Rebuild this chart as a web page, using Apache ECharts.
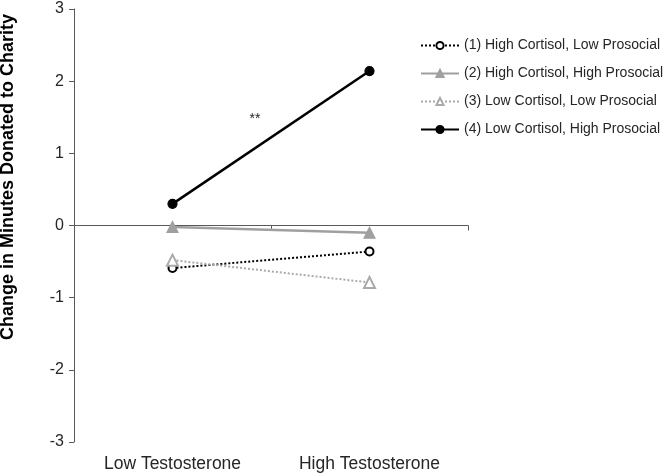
<!DOCTYPE html>
<html>
<head>
<meta charset="utf-8">
<script src="https://cdn.jsdelivr.net/npm/echarts@6/dist/echarts.min.js"></script>
<style>
  html, body { margin: 0; padding: 0; background: #fff; }
  #chart { width: 666px; height: 475px; }
</style>
</head>
<body>
<div id="chart"></div>
<script>
// categories and values
const categories = ['Low Testosterone', 'High Testosterone'];
const seriesNames = [
  '(1) High Cortisol, Low Prosocial',
  '(2) High Cortisol, High Prosocial',
  '(3) Low Cortisol, Low Prosocial',
  '(4) Low Cortisol, High Prosocial'
];
const highCortLowPro = [-0.59, -0.36];
const highCortHighPro = [-0.02, -0.10];
const lowCortLowPro = [-0.48, -0.79];
const lowCortHighPro = [0.30, 2.14];
const yTicks = { min: -3, max: 3, step: 1 };

const FONT = '"Liberation Sans", Arial, sans-serif';
const AXIS_GREY = '#595959';

const chart = echarts.init(document.getElementById('chart'));

const lineSeries = (name, data, color, dash, symbol, size, width) => ({
  name,
  type: 'line',
  data,
  xAxisIndex: 0,
  symbol,
  symbolSize: size,
  showSymbol: true,
  lineStyle: { color, width, type: dash },
  itemStyle: { color, borderColor: color, borderWidth: 1.2 },
  emphasis: { disabled: true },
  animation: false
});

chart.setOption({
  backgroundColor: '#fff',
  textStyle: { fontFamily: FONT },
  grid: { left: 74, top: 9, width: 394, bottom: 33 },
  legend: {
    orient: 'vertical',
    left: 415,
    top: 33,
    itemWidth: 38,
    itemHeight: 9,
    itemGap: 13,
    textStyle: { fontFamily: FONT, fontSize: 14, lineHeight: 15, color: '#262626' },
    data: seriesNames
  },
  xAxis: [
    {
      type: 'category',
      data: categories,
      position: 'bottom',
      axisLine: { onZero: true, lineStyle: { color: AXIS_GREY, width: 1 } },
      axisTick: { show: true, length: 5, lineStyle: { color: AXIS_GREY } },
      axisLabel: { show: false }
    },
    {
      type: 'category',
      data: categories,
      position: 'bottom',
      axisLine: { show: false, onZero: false },
      axisTick: { show: false },
      axisLabel: { fontFamily: FONT, fontSize: 17.5, color: '#262626', margin: 13 }
    }
  ],
  yAxis: {
    type: 'value',
    min: yTicks.min,
    max: yTicks.max,
    interval: yTicks.step,
    axisLine: { show: true, lineStyle: { color: AXIS_GREY, width: 1 } },
    axisTick: { show: true, length: 5, lineStyle: { color: AXIS_GREY } },
    axisLabel: { fontFamily: FONT, fontSize: 16, color: '#262626', margin: 10 },
    splitLine: { show: false }
  },
  graphic: [
    {
      type: 'text',
      x: 8,
      y: 177,
      rotation: Math.PI / 2,
      style: {
        text: 'Change in Minutes Donated to Charity',
        fontFamily: FONT,
        fontSize: 18,
        fontWeight: 'bold',
        fill: '#000',
        align: 'center',
        verticalAlign: 'middle'
      }
    },
    {
      type: 'text',
      x: 255,
      y: 119,
      style: {
        text: '**',
        fontFamily: FONT,
        fontSize: 14,
        fill: '#262626',
        align: 'center',
        verticalAlign: 'middle'
      }
    }
  ],
  series: [
    lineSeries(seriesNames[0], highCortLowPro, '#000', 'dotted', 'emptyCircle', 8, 2),
    lineSeries(seriesNames[1], highCortHighPro, '#a0a0a0', 'solid', 'triangle', 11, 2.5),
    lineSeries(seriesNames[2], lowCortLowPro, '#aaaaaa', 'dotted', 'emptyTriangle', 11, 2),
    lineSeries(seriesNames[3], lowCortHighPro, '#000', 'solid', 'circle', 9, 2.5)
  ]
});
</script>
</body>
</html>
